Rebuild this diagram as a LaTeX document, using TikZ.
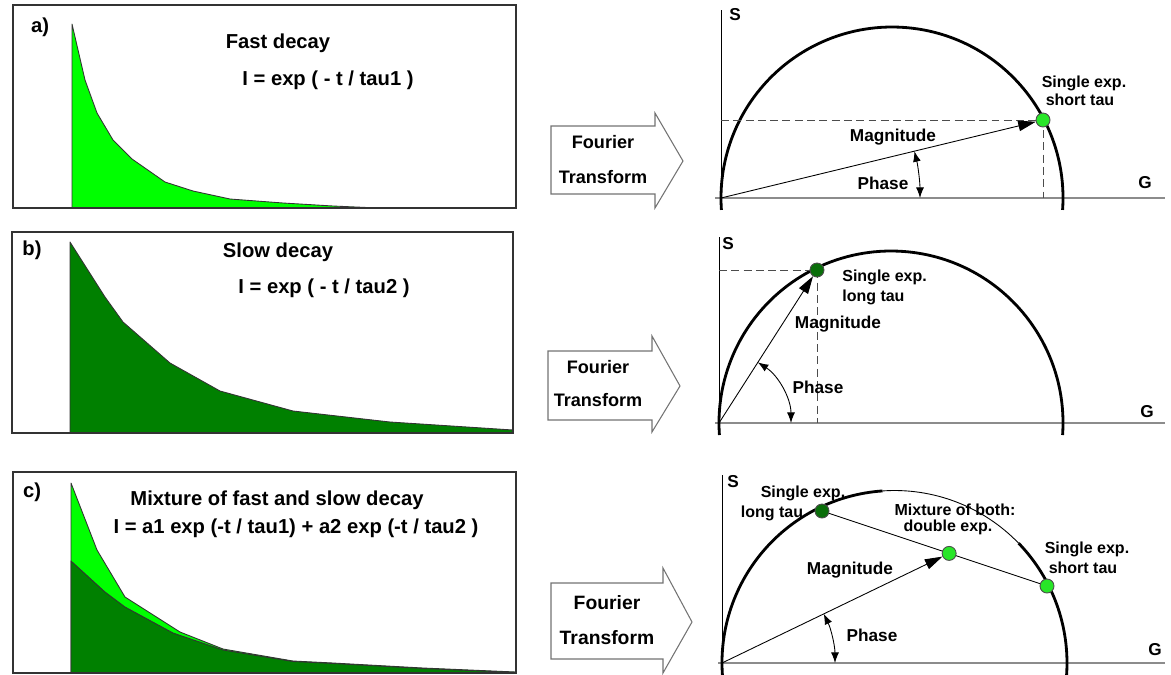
\documentclass[tikz,border=0pt]{standalone}
\usepackage{fontspec}
\setmainfont{Liberation Sans}
\usetikzlibrary{arrows.meta}
\definecolor{fastgreen}{RGB}{0,255,0}
\definecolor{slowgreen}{RGB}{0,128,0}
\definecolor{dotfast}{RGB}{40,230,40}
\definecolor{dotslow}{RGB}{10,110,10}
\begin{document}
\begin{tikzpicture}[x=0.02cm,y=-0.02cm,
  panelbox/.style={draw=black!80,line width=0.8pt},
  curvefast/.style={fill=fastgreen,draw=black!80,line width=0.5pt,line join=round},
  curveslow/.style={fill=slowgreen,draw=black!80,line width=0.5pt,line join=round},
  bigtxt/.style={font=\fontsize{11.5}{13}\selectfont\bfseries,inner sep=0pt},
  ftarrow/.style={draw=black!55,line width=0.6pt,fill=white},
  fttxt/.style={font=\fontsize{10.3}{12}\selectfont\bfseries,inner sep=0pt},
  gaxis/.style={draw=black!45,line width=0.7pt},
  saxis/.style={draw=black,line width=0.5pt},
  circ/.style={line width=1.6pt},
  guide/.style={draw=black!70,line width=0.5pt,dash pattern=on 4.5pt off 2.5pt},
  magarrow/.style={line width=0.5pt,-{Triangle[length=10pt,width=6pt]}},
  phasearrow/.style={line width=0.5pt,{Latex[length=6pt,width=4.5pt]}-{Latex[length=6pt,width=4.5pt]}},
  lbl/.style={font=\fontsize{9.8}{11}\selectfont\bfseries,inner sep=0pt},
  smlbl/.style={font=\fontsize{9.1}{10}\selectfont\bfseries,inner sep=0pt},
  ptfast/.style={circle,draw=black!70,fill=dotfast,line width=0.5pt,minimum size=0.28cm,inner sep=0pt},
  ptslow/.style={ptfast,fill=dotslow}]
\useasboundingbox (0,0) rectangle (1171,674);

% a) fast decay
\draw[curvefast] (72,208) -- (72,24) -- (85,80) -- (97,113) -- (113,140) -- (132,159) -- (165,182) -- (193,191) -- (230,199) -- (283,203) -- (333,206) -- (367,207.5) -- (470,208) -- cycle;
\draw[panelbox] (13,5) rectangle (516,208);
\node[bigtxt] (taga) at (40,27) {a)};
\node[bigtxt] (titlea) at (278,43) {Fast decay};
\node[bigtxt] (eqa) at (328,80) {I = exp ( - t / tau1 )};

% b) slow decay
\draw[curveslow] (70,433) -- (70,242) -- (105,297) -- (123,322) -- (170,363) -- (220,391) -- (293,411) -- (390,422) -- (513,430) -- (513,433) -- cycle;
\draw[panelbox] (12,232) rectangle (513,433);
\node[bigtxt] (tagb) at (32,250) {b)};
\node[bigtxt] (titleb) at (278,252) {Slow decay};
\node[bigtxt] (eqb) at (324,288) {I = exp ( - t / tau2 )};

% c) mixture
\draw[curvefast] (71,673) -- (71,483) -- (97,550) -- (125,597) -- (180,632) -- (223,649) -- (293,661) -- (333,663) -- (423,668) -- (516,672) -- (516,673) -- cycle;
\draw[curveslow] (71,673) -- (71,561) -- (105,592) -- (125,607) -- (173,633) -- (223,650) -- (293,661.5) -- (333,663.5) -- (423,668.5) -- (516,672.5) -- (516,673) -- cycle;
\draw[panelbox] (13,472) rectangle (516,673);
\node[bigtxt] (tagc) at (32,492) {c)};
\node[bigtxt] (titlec) at (277,500) {Mixture of fast and slow decay};
\node[bigtxt] (eqc) at (296,528) {I = a1 exp (-t / tau1) + a2 exp (-t / tau2 )};

% Fourier transform arrows
\draw[ftarrow] (551,126) -- (655,126) -- (655,113) -- (683,161) -- (655,208) -- (655,194) -- (551,194) -- cycle;
\node[fttxt] (fta1) at (603,142) {Fourier};
\node[fttxt] (fta2) at (603,177) {Transform};
\draw[ftarrow] (548,351) -- (652,351) -- (652,336) -- (680,386) -- (652,432) -- (652,420) -- (548,420) -- cycle;
\node[fttxt] (ftb1) at (598,367) {Fourier};
\node[fttxt] (ftb2) at (598,400) {Transform};
\draw[ftarrow] (551,583) -- (663,583) -- (663,568) -- (692,622) -- (663,673) -- (663,659) -- (551,659) -- cycle;
\node[fttxt,font=\fontsize{11}{13}\selectfont\bfseries] (ftc1) at (607,603) {Fourier};
\node[fttxt,font=\fontsize{11}{13}\selectfont\bfseries] (ftc2) at (607,638) {Transform};

% phasor a
\coordinate (oa) at (721,198);
\coordinate (ca) at (892,198);
\coordinate (pa) at (1043,120);
\draw[saxis] (721,10) -- (oa);
\draw[gaxis] (715,198) -- (1165,198);
\draw[circ] (ca) ++(4:171) arc[start angle=4,end angle=-184,radius=171];
\draw[guide] (oa |- pa) -- (pa) -- (pa |- oa);
\node[ptfast] (dota) at (pa) {};
\draw[magarrow] (oa) -- (dota);
\draw[phasearrow] (oa) ++(0:199) arc[start angle=0,end angle=-13.6,radius=199];
\node[lbl] (sa) at (735,15) {S};
\node[lbl] (ga) at (1145,183) {G};
\node[lbl] (maga) at (893,137) {Magnitude};
\node[lbl] (pha) at (883,183) {Phase};
\node[smlbl] (sea) at (1084,83) {Single exp.};
\node[smlbl] (sta) at (1080,100) {short tau};

% phasor b
\coordinate (ob) at (719,423);
\coordinate (cb) at (891,423);
\coordinate (pb) at (817,270);
\draw[saxis] (719,237) -- (ob);
\draw[gaxis] (715,423) -- (1165,423);
\draw[circ] (cb) ++(4:172) arc[start angle=4,end angle=-184,radius=172];
\draw[guide] (ob |- pb) -- (pb) -- (pb |- ob);
\node[ptslow] (dotb) at (pb) {};
\draw[magarrow] (ob) -- (dotb);
\draw[phasearrow] (ob) ++(0:72) arc[start angle=0,end angle=-57.4,radius=72];
\node[lbl] (sb) at (728,244) {S};
\node[lbl] (gb) at (1147,412) {G};
\node[lbl] (magb) at (838,324) {Magnitude};
\node[lbl] (phb) at (818,387) {Phase};
\node[smlbl,anchor=west] (seb) at (842,277) {Single exp.};
\node[smlbl,anchor=west] (ltb) at (842,297) {long tau};

% phasor c
\coordinate (oc) at (722,663);
\coordinate (cc) at (894.5,663);
\coordinate (pl) at (822,511);
\coordinate (ps) at (1047,586);
\path (pl) -- (ps) coordinate[pos=0.565] (pm);
\draw[saxis] (722,475) -- (oc);
\draw[gaxis] (718,663) -- (1165,663);
\draw[circ] (cc) ++(4:172.5) arc[start angle=4,end angle=-44,radius=172.5];
\draw[line width=0.5pt] (cc) ++(-44:172.5) arc[start angle=-44,end angle=-94,radius=172.5];
\draw[circ] (cc) ++(-94:172.5) arc[start angle=-94,end angle=-184,radius=172.5];
\draw[line width=0.5pt] (pl) -- (ps);
\node[ptslow] (dotl) at (pl) {};
\node[ptfast] (dots) at (ps) {};
\node[ptfast] (dotm) at (pm) {};
\draw[magarrow] (oc) -- (dotm);
\draw[phasearrow] (oc) ++(0:113) arc[start angle=0,end angle=-25.8,radius=113];
\node[lbl] (sc) at (733,482) {S};
\node[lbl] (gc) at (1155,650) {G};
\node[lbl] (magc) at (850,570) {Magnitude};
\node[lbl] (phc) at (872,635) {Phase};
\node[smlbl] (sel) at (803,493) {Single exp.};
\node[smlbl] (ltl) at (772,513) {long tau};
\node[smlbl] (mixa) at (955,510) {Mixture of both:};
\node[smlbl] (mixb) at (948,527) {double exp.};
\node[smlbl] (ses) at (1087,549) {Single exp.};
\node[smlbl] (sts) at (1083,568) {short tau};
\end{tikzpicture}
\end{document}
